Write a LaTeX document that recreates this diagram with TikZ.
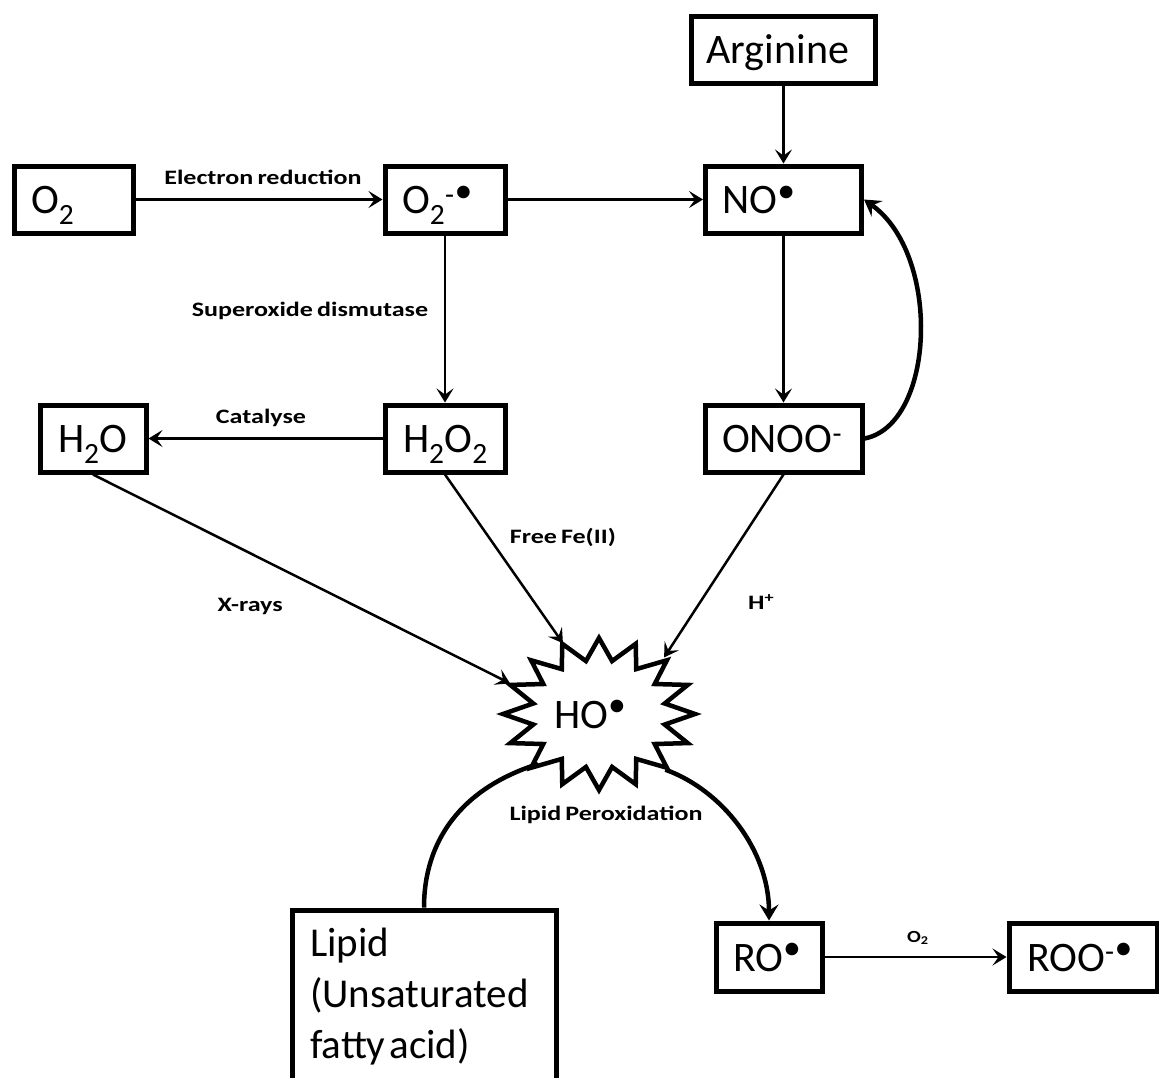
\documentclass[tikz,border=0pt]{standalone}
\usepackage{fontspec}
\setmainfont{Carlito}[WordSpace=0.7]
\usetikzlibrary{arrows.meta,shapes.geometric}
\newcommand\rdot{\raisebox{0.27em}{\scalebox{0.85}{•}}}
\newcommand\edgelbl[1]{\scalebox{1.27}[1]{\fontsize{20.5}{24}\selectfont\bfseries #1}}
\begin{document}
\begin{tikzpicture}[x=1pt,y=-1pt,
  boxbase/.style={draw, line width=5pt, inner ysep=0pt, align=left,
    font=\fontsize{42}{50}\selectfont, minimum height=67pt},
  box/.style={boxbase, text height=30pt, text depth=2pt},
  arr/.style={line width=2.5pt, -{Stealth[length=14pt,width=17pt,inset=6pt]}},
  thickarr/.style={line width=4.5pt, -{Stealth[length=16pt,width=19pt,inset=6pt]}},
  thickline/.style={line width=4.5pt},
  lbl/.style={anchor=base, inner sep=0pt}]
\useasboundingbox (0,0) rectangle (1159,1077);
\clip (0,0) rectangle (1159,1077);
\fill[white] (0,0) rectangle (1159,1077);

% boxes
\node[box, inner xsep=17pt, text width=85pt] (o2) at (73.5,199.5) {O\textsubscript{2}};
\node[box, inner xsep=17pt, text width=86pt] (o2r) at (445,199.5) {O\textsubscript{2}\textsuperscript{-}\rdot};
\node[box, inner xsep=17pt, text width=122pt] (no) at (783.5,199.5) {NO\rdot};
\node[box, inner xsep=15pt, text width=154pt] (arg) at (783.5,49.5) {Arginine};
\node[box, inner xsep=18pt, text width=70pt] (h2o) at (93,438.5) {H\textsubscript{2}O};
\node[box, inner xsep=18pt, text width=84pt] (h2o2) at (445,438.5) {H\textsubscript{2}O\textsubscript{2}};
\node[box, inner xsep=17pt, text width=123pt] (onoo) at (783.5,438.5) {ONOO\textsuperscript{-}};
\node[box, inner xsep=17pt, text width=72pt, minimum height=68pt] (ro) at (769,957) {RO\rdot};
\node[box, inner xsep=18pt, text width=112pt, minimum height=68pt] (roo) at (1083,957) {ROO\textsuperscript{-}\rdot};
\node[boxbase, inner xsep=18pt, text width=228pt, minimum height=174pt,
  font=\fontsize{41}{51}\selectfont] (lipid) at (424,997) {Lipid\\(Unsaturated\\fatty\hspace{0.1em}acid)};

% HO radical star
\draw[line width=4.5pt, line join=miter] (695,714)
  \foreach \i in {0,...,15} {
    -- ({599+67*cos(\i*22.5+11.25)},{714-54*sin(\i*22.5+11.25)})
    -- ({599+96*cos((\i+1)*22.5)},{714-76*sin((\i+1)*22.5)})
  } -- cycle;
\node[ellipse, minimum width=194pt, minimum height=152pt, inner sep=0pt,
  font=\fontsize{42}{50}\selectfont, text height=30pt, text depth=2pt] (ho) at (599,714) {HO\rdot\hspace*{18pt}};
\coordinate (hoL) at (538,764);

% connectors
\draw[arr] (o2) -- node[lbl, midway, xshift=4pt, yshift=15.5pt] {\edgelbl{Electron reduction}} (o2r);
\draw[arr] (o2r) -- (no);
\draw[arr] (arg) -- (no);
\draw[arr] (no) -- (onoo);
\draw[thickarr] (onoo.east) .. controls (935,425) and (942,255) .. (no.east);
\draw[arr] (o2r) -- node[lbl, pos=0.485, xshift=-135pt] {\edgelbl{Superoxide dismutase}} (h2o2);
\draw[arr] (h2o2) -- node[lbl, midway, xshift=-4.5pt, yshift=15.5pt] {\edgelbl{Catalyse}} (h2o);
\draw[arr] (h2o.south) -- node[lbl, pos=0.377, yshift=-58pt] {\edgelbl{X-rays}} (ho.161);
\draw[arr] (h2o2.south) -- node[lbl, pos=0.41, xshift=69.5pt] {\edgelbl{Free Fe(II)}} (ho.117);
\draw[arr] (onoo.south) -- node[lbl, pos=0.74, xshift=66pt] {\edgelbl{H\textsuperscript{+}}} (ho.41);
\draw[thickline] (lipid.north) .. controls (424,840) and (462,788) .. (hoL);
\draw[thickarr] (ho.-40) .. controls (722,790) and (769,850) .. (ro.north);
\node[lbl] (lpx) at (606,820) {\edgelbl{Lipid Peroxidation}};
\draw[arr] (ro) -- node[lbl, midway, xshift=2.5pt, yshift=15pt]
  {\scalebox{1.2}[1]{\fontsize{17}{20}\selectfont\bfseries O\textsubscript{2}}} (roo);
\end{tikzpicture}
\end{document}
